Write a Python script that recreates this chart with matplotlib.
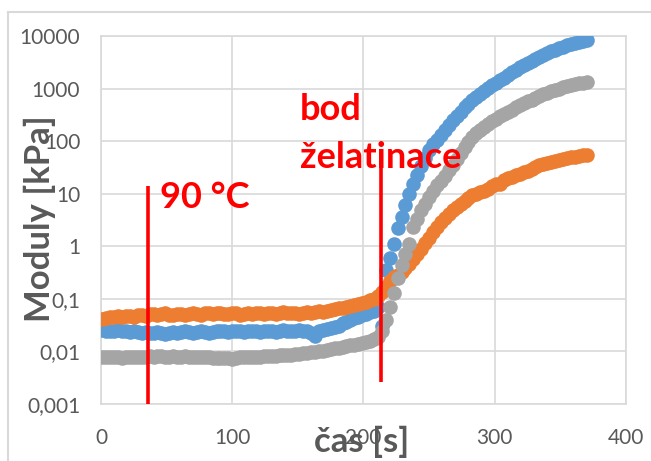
import numpy as np
import matplotlib
matplotlib.use("Agg")
import matplotlib.pyplot as plt
from matplotlib.lines import Line2D

plt.rcParams['font.family'] = ['Lato', 'DejaVu Sans']

# sampling times [s]
cas = np.arange(1, 371, 3)

# moduli [kPa]
modry = [
    0.026, 0.025, 0.024, 0.025, 0.026, 0.025, 0.024, 0.023, 0.024, 0.023,
    0.022, 0.023, 0.022, 0.022, 0.023, 0.022, 0.021, 0.022, 0.023, 0.022,
    0.023, 0.024, 0.023, 0.022, 0.023, 0.024, 0.023, 0.022, 0.023, 0.024,
    0.025, 0.024, 0.023, 0.024, 0.025, 0.024, 0.023, 0.024, 0.025, 0.024,
    0.023, 0.024, 0.025, 0.024, 0.023, 0.024, 0.026, 0.025, 0.024, 0.025,
    0.026, 0.025, 0.024, 0.022, 0.020, 0.024, 0.026, 0.027, 0.028, 0.029,
    0.031, 0.034, 0.037, 0.040, 0.043, 0.046, 0.049, 0.052, 0.056, 0.060,
    0.070, 0.030, 0.35, 0.6, 1.1, 2.2, 3.6, 6.0, 10, 15,
    23, 34, 48, 68, 89, 107, 129, 162, 204, 251,
    302, 363, 437, 513, 603, 692, 794, 912, 1020, 1150,
    1290, 1450, 1620, 1820, 2040, 2290, 2570, 2820, 3090, 3390,
    3720, 3980, 4370, 4680, 5130, 5500, 5890, 6310, 6760, 7080,
    7410, 7760, 8130, 8510,
]
oranzovy = [
    0.042, 0.044, 0.045, 0.046, 0.047, 0.046, 0.048, 0.047, 0.046, 0.049,
    0.050, 0.048, 0.052, 0.051, 0.049, 0.052, 0.054, 0.050, 0.049, 0.051,
    0.052, 0.050, 0.051, 0.053, 0.052, 0.050, 0.053, 0.055, 0.052, 0.054,
    0.053, 0.051, 0.052, 0.054, 0.053, 0.050, 0.052, 0.054, 0.051, 0.053,
    0.055, 0.052, 0.054, 0.053, 0.051, 0.054, 0.056, 0.053, 0.055, 0.054,
    0.052, 0.055, 0.057, 0.054, 0.056, 0.058, 0.057, 0.060, 0.062, 0.064,
    0.066, 0.068, 0.070, 0.073, 0.076, 0.080, 0.084, 0.089, 0.094, 0.10,
    0.115, 0.135, 0.17, 0.22, 0.26, 0.29, 0.33, 0.38, 0.46, 0.58,
    0.72, 0.90, 1.15, 1.45, 1.85, 2.3, 2.9, 3.5, 4.2, 5.0,
    5.7, 6.5, 7.3, 8.3, 9.3, 9.9, 10.8, 11.5, 12.5, 13.8,
    15.5, 15.0, 18.5, 20, 21, 23, 24, 26, 27, 30,
    32, 35, 36, 38, 40, 42, 44, 46, 48, 50,
    51, 53, 54, 55,
]
sedy = [
    0.0080, 0.0079, 0.0078, 0.0080, 0.0077, 0.0076, 0.0078, 0.0080, 0.0079, 0.0077,
    0.0078, 0.0080, 0.0082, 0.0079, 0.0081, 0.0083, 0.0080, 0.0079, 0.0081, 0.0080,
    0.0079, 0.0081, 0.0080, 0.0078, 0.0080, 0.0079, 0.0077, 0.0078, 0.0076, 0.0075,
    0.0074, 0.0076, 0.0075, 0.0073, 0.0076, 0.0078, 0.0077, 0.0079, 0.0080, 0.0078,
    0.0080, 0.0082, 0.0081, 0.0083, 0.0082, 0.0084, 0.0086, 0.0085, 0.0087, 0.0089,
    0.0090, 0.0092, 0.0094, 0.0096, 0.0098, 0.0100, 0.0103, 0.0106, 0.0110, 0.0114,
    0.0118, 0.0122, 0.0126, 0.0130, 0.0135, 0.0140, 0.0146, 0.0153, 0.0160, 0.0175,
    0.019, 0.024, 0.040, 0.070, 0.13, 0.25, 0.45, 0.70, 1.1, 2.3,
    3.3, 4.8, 6.5, 8.7, 11.5, 14.5, 17.5, 22, 28, 35,
    46, 59, 76, 98, 120, 141, 162, 186, 214, 240,
    269, 302, 331, 363, 398, 437, 479, 525, 575, 617,
    676, 724, 776, 832, 891, 933, 1000, 1050, 1100, 1150,
    1200, 1260, 1290, 1320,
]

ytick_vals = [0.001, 0.01, 0.1, 1, 10, 100, 1000, 10000]
ytick_labels = ["0,001", "0,01", "0,1", "1", "10", "100", "1000", "10000"]
xtick_vals = [0, 100, 200, 300, 400]

# red marker lines: (time, bottom, top)
cara_90 = (35.8, 0.001, 14)
cara_gel = (213, 0.0026, 37)

seda_txt = "#595959"
mrizka = "#d9d9d9"

fig = plt.figure(figsize=(6.51, 4.61), dpi=100)
ax = fig.add_axes([101 / 651, 1 - 404 / 461, 525 / 651, 368 / 461])

ax.plot(cas, modry, 'o', color="#5b9bd5", ms=10.5, mew=0, zorder=3)
ax.plot(cas, oranzovy, 'o', color="#ed7d31", ms=10.5, mew=0, zorder=4)
ax.plot(cas, sedy, 'o', color="#a5a5a5", ms=10.5, mew=0, zorder=5)

ax.set_yscale('log')
ax.set_ylim(0.001, 10000)
ax.set_xlim(0, 400)
ax.set_yticks(ytick_vals, ytick_labels)
ax.set_xticks(xtick_vals)
ax.minorticks_off()
ax.tick_params(length=0, labelsize=15, labelcolor=seda_txt)
ax.tick_params(axis='y', pad=15)
ax.tick_params(axis='x', pad=17)
ax.grid(True, color=mrizka, lw=1.2, zorder=0)
ax.set_axisbelow(True)
for s in ax.spines.values():
    s.set_color(mrizka)
    s.set_linewidth(1.2)

for x, y0, y1 in (cara_90, cara_gel):
    ax.plot([x, x], [y0, y1], color="#ff0000", lw=2.6, zorder=10, solid_capstyle='butt')

ax.text(45, 5.3, "90 °C", color="#ff0000", fontsize=26, fontweight='bold',
        va='baseline', ha='left', zorder=11)
ax.text(151.5, 251, "bod", color="#ff0000", fontsize=26, fontweight='bold',
        va='baseline', ha='left', zorder=11)
ax.text(151.5, 30.7, "želatinace", color="#ff0000", fontsize=26, fontweight='bold',
        va='baseline', ha='left', zorder=11)

fig.text(40 / 651, 1 - 219 / 461, "Moduly [kPa]", rotation=90, color=seda_txt,
         fontsize=25, fontweight='bold', ha='center', va='center')
fig.text(362 / 651, 1 - 452 / 461, "čas [s]", color=seda_txt,
         fontsize=25, fontweight='bold', ha='center', va='baseline')

# chart frame
fig.add_artist(Line2D([8 / 651, 8 / 651], [0, 1 - 12 / 461], color=mrizka, lw=1.5))
fig.add_artist(Line2D([8 / 651, 1], [1 - 12 / 461, 1 - 12 / 461], color=mrizka, lw=1.5))

fig.savefig("out.png", dpi=100)
